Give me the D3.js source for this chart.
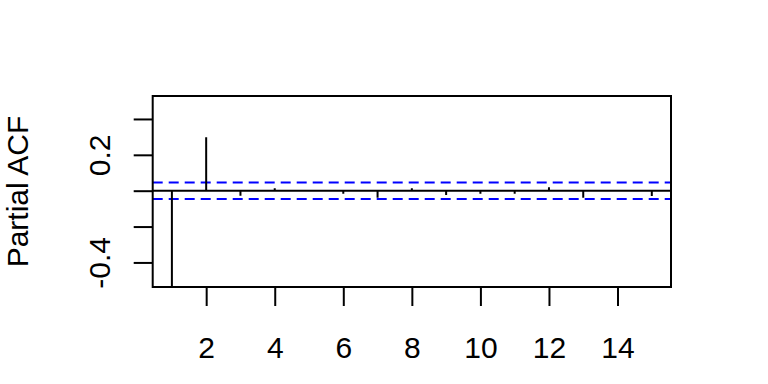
<!DOCTYPE html>
<html>
<head>
<meta charset="utf-8">
<script src="https://cdn.jsdelivr.net/npm/d3@7"></script>
<style>
  body { margin: 0; background: #fff; }
  text { font-family: "Liberation Sans", Arial, sans-serif; fill: #000; }
</style>
</head>
<body>
<div id="chart"></div>
<script>
// partial autocorrelation, lags 1..15
const lags = [1, 2, 3, 4, 5, 6, 7, 8, 9, 10, 11, 12, 13, 14, 15];
const pacf = [-0.54, 0.298, -0.028, 0.013, 0.002, -0.017, -0.039, 0.013, -0.024, -0.017, -0.017, 0.019, -0.039, -0.002, -0.03];
const ciBound = 0.046;
const xTicks = [2, 4, 6, 8, 10, 12, 14];
const yTicks = [-0.4, -0.2, 0, 0.2, 0.4];
const yLabelled = [-0.4, 0.2];

const width = 768;
const height = 384;
const box = { left: 152.7, right: 671, top: 96, bottom: 287 };
const fontSize = 30;
const tickLen = 19;

const svg = d3
  .select("#chart")
  .append("svg")
  .attr("width", width)
  .attr("height", height);

const x = d3.scaleLinear().domain([0.44, 15.56]).range([box.left, box.right]);
const y = d3.scaleLinear().domain([-0.537, 0.528]).range([box.bottom, box.top]);

svg
  .append("defs")
  .append("clipPath")
  .attr("id", "plot-clip")
  .append("rect")
  .attr("x", box.left)
  .attr("y", box.top)
  .attr("width", box.right - box.left)
  .attr("height", box.bottom - box.top);

const plot = svg.append("g").attr("clip-path", "url(#plot-clip)");

// zero line
plot
  .append("line")
  .attr("x1", box.left)
  .attr("x2", box.right)
  .attr("y1", y(0))
  .attr("y2", y(0))
  .attr("stroke", "#000")
  .attr("stroke-width", 2);

// confidence bounds
plot
  .selectAll(".ci")
  .data([ciBound, -ciBound])
  .enter()
  .append("line")
  .attr("class", "ci")
  .attr("x1", box.left)
  .attr("x2", box.right)
  .attr("y1", (d) => y(d))
  .attr("y2", (d) => y(d))
  .attr("stroke", "#0000ff")
  .attr("stroke-width", 2)
  .attr("stroke-dasharray", "10,6");

// spikes
plot
  .selectAll(".spike")
  .data(lags.map((lag, i) => ({ lag, value: pacf[i] })))
  .enter()
  .append("line")
  .attr("class", "spike")
  .attr("x1", (d) => x(d.lag))
  .attr("x2", (d) => x(d.lag))
  .attr("y1", y(0))
  .attr("y2", (d) => y(d.value))
  .attr("stroke", "#000")
  .attr("stroke-width", 2);

// x axis
const xAxis = svg
  .append("g")
  .attr("transform", `translate(0,${box.bottom})`)
  .call(d3.axisBottom(x).tickValues(xTicks).tickSize(tickLen).tickSizeOuter(0));

xAxis.select(".domain").remove();
xAxis.selectAll(".tick line").attr("stroke", "#000").attr("stroke-width", 2);
xAxis
  .selectAll(".tick text")
  .attr("y", 71)
  .attr("dy", 0)
  .attr("font-size", fontSize)
  .attr("font-family", null);

// y axis
const yAxis = svg
  .append("g")
  .attr("transform", `translate(${box.left},0)`)
  .call(
    d3
      .axisLeft(y)
      .tickValues(yTicks)
      .tickSize(tickLen)
      .tickFormat((d) => (yLabelled.includes(d) ? d3.format(".1f")(d).replace("−", "-") : ""))
  );

yAxis.select(".domain").remove();
yAxis.selectAll(".tick line").attr("stroke", "#000").attr("stroke-width", 2);
yAxis
  .selectAll(".tick text")
  .attr("transform", "rotate(-90)")
  .attr("x", 0)
  .attr("y", -42.7)
  .attr("dy", 0)
  .attr("text-anchor", "middle")
  .attr("font-size", fontSize)
  .attr("font-family", null);

// frame
svg
  .append("rect")
  .attr("x", box.left)
  .attr("y", box.top)
  .attr("width", box.right - box.left)
  .attr("height", box.bottom - box.top)
  .attr("fill", "none")
  .attr("stroke", "#000")
  .attr("stroke-width", 2);

// y label
svg
  .append("text")
  .attr("transform", `translate(28,${(box.top + box.bottom) / 2}) rotate(-90)`)
  .attr("text-anchor", "middle")
  .attr("font-size", fontSize)
  .text("Partial ACF");
</script>
</body>
</html>
